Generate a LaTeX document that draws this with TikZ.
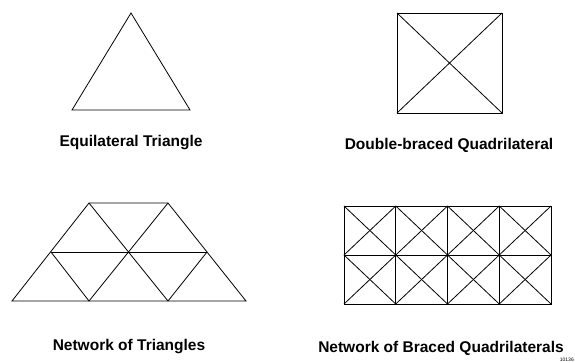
\documentclass[tikz,border=0pt]{standalone}
\usepackage{fontspec}
\setmainfont{Liberation Sans}
\usepackage{tikz}
\usetikzlibrary{positioning, calc}

\begin{document}
\begin{tikzpicture}[
  x=1pt, y=-1pt,
  member/.style={black, line width=0.8pt, line join=miter},
  caption/.style={font=\fontsize{15.5}{18}\selectfont\bfseries, anchor=base, inner sep=0pt},
  tag/.style={font=\fontsize{5}{6}\selectfont, anchor=base, inner sep=0pt}
]
  \useasboundingbox (0,0) rectangle (575,362);

  % equilateral triangle
  \coordinate (t1) at (131,13);
  \coordinate (t2) at (72,110);
  \coordinate (t3) at (190,110);
  \draw[member] (t1) -- (t2) -- (t3) -- cycle;
  \node[caption] (eqlbl) at (131,146) {Equilateral Triangle};

  % double-braced quadrilateral
  \coordinate (q1) at (397,13);
  \coordinate (q2) at (502,13);
  \coordinate (q3) at (502,113);
  \coordinate (q4) at (397,113);
  \draw[member] (q1) -- (q2) -- (q3) -- (q4) -- cycle;
  \draw[member] (q1) -- (q3);
  \draw[member] (q2) -- (q4);
  \node[caption] (dblbl) at (449,149) {Double-braced Quadrilateral};

  % network of triangles
  \coordinate (a1) at (89,203);
  \coordinate (a2) at (168,203);
  \coordinate (b1) at (51,252);
  \coordinate (b2) at (128,252);
  \coordinate (b3) at (207,252);
  \coordinate (c1) at (12,301);
  \coordinate (c2) at (89,301);
  \coordinate (c3) at (168,301);
  \coordinate (c4) at (246,301);
  \draw[member] (a1) -- (a2) -- (c4) -- (c1) -- cycle;
  \draw[member] (b1) -- (b3);
  \draw[member] (a1) -- (c3);
  \draw[member] (a2) -- (c2);
  \draw[member] (b1) -- (c2);
  \draw[member] (b3) -- (c3);
  \node[caption] (ntlbl) at (129,350) {Network of Triangles};

  % network of braced quadrilaterals
  \foreach \i in {0,...,4}
    \foreach \j in {0,1,2}
      \coordinate (g\i-\j) at ({344+51.75*\i},{206+49*\j});
  \draw[member] (g0-0) -- (g4-0) -- (g4-2) -- (g0-2) -- cycle;
  \draw[member] (g0-1) -- (g4-1);
  \foreach \i in {1,2,3}
    \draw[member] (g\i-0) -- (g\i-2);
  \foreach \i in {0,...,3}
    \foreach \j in {0,1} {
      \pgfmathtruncatemacro{\ni}{\i+1}
      \pgfmathtruncatemacro{\nj}{\j+1}
      \draw[member] (g\i-\j) -- (g\ni-\nj);
      \draw[member] (g\ni-\j) -- (g\i-\nj);
    }
  \node[caption] (nqlbl) at (441,352) {Network of Braced Quadrilaterals};
  \node[tag, anchor=base east] (figno) at (574,361) {10136};
\end{tikzpicture}
\end{document}
